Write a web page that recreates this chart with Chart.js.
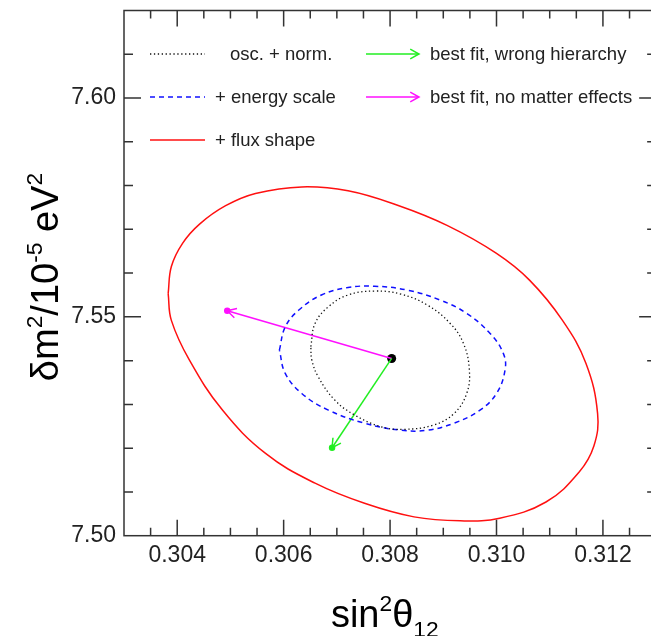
<!DOCTYPE html>
<html>
<head>
<meta charset="utf-8">
<script src="https://cdn.jsdelivr.net/npm/chart.js@4.4.0/dist/chart.umd.min.js"></script>
<style>
  body { margin: 0; background: #fff; }
  canvas { display: block; }
</style>
</head>
<body>
<canvas id="contourChart" width="651" height="636"></canvas>
<script>
// contour points (sin^2 theta12, dm^2 / 1e-5 eV^2)
const oscNormX = [0.30651, 0.30659, 0.30684, 0.30721, 0.30771, 0.30820, 0.30870, 0.30913, 0.30938, 0.30949,
                  0.30944, 0.30920, 0.30882, 0.30826, 0.30783, 0.30733, 0.30696, 0.30665, 0.30653];
const oscNormY = [7.5432, 7.5485, 7.5523, 7.5550, 7.5559, 7.5552, 7.5527, 7.5485, 7.5439, 7.5378,
                  7.5325, 7.5279, 7.5253, 7.5243, 7.5249, 7.5276, 7.5310, 7.5363, 7.5401];

const energyScaleX = [0.30592, 0.30603, 0.30628, 0.30671, 0.30721, 0.30771, 0.30833, 0.30895, 0.30944, 0.30988, 0.31013,
                      0.31016, 0.31000, 0.30969, 0.30920, 0.30870, 0.30820, 0.30752, 0.30684, 0.30634, 0.30603];
const energyScaleY = [7.5424, 7.5477, 7.5515, 7.5550, 7.5567, 7.5570, 7.5561, 7.5538, 7.5508, 7.5462, 7.5416,
                      7.5378, 7.5325, 7.5287, 7.5257, 7.5241, 7.5241, 7.5257, 7.5287, 7.5325, 7.5371];

const fluxShapeX = [0.30383, 0.30389, 0.30410, 0.30442, 0.30491, 0.30547, 0.30634, 0.30721, 0.30814, 0.30907,
                    0.31000, 0.31062, 0.31124, 0.31168, 0.31190, 0.31183, 0.31155, 0.31093, 0.31006, 0.30932,
                    0.30845, 0.30752, 0.30659, 0.30566, 0.30485, 0.30423, 0.30389];
const fluxShapeY = [7.5553, 7.5615, 7.5668, 7.5712, 7.5754, 7.5782, 7.5797, 7.5788, 7.5755, 7.5709,
                    7.5645, 7.5584, 7.5492, 7.5394, 7.5279, 7.5205, 7.5145, 7.5077, 7.5040, 7.5034,
                    7.5043, 7.5074, 7.5120, 7.5188, 7.5287, 7.5401, 7.5492];

const bestFit = [0.30803, 7.5405];
const wrongHierarchyFit = [0.30691, 7.5201];
const noMatterFit = [0.30494, 7.5514];

const xTickValues = [0.304, 0.306, 0.308, 0.310, 0.312];
const yTickValues = [7.50, 7.55, 7.60];
const xMinorStep = 0.0005;
const yMinorStep = 0.01;
const xMin = 0.303, xMax = 0.3128, xFrameMax = 0.313;
const yMin = 7.50, yMax = 7.62;

const FONT = '"Liberation Sans", Arial, Helvetica, sans-serif';

function toPoints(xs, ys, close) {
    const pts = xs.map((x, i) => ({ x: x, y: ys[i] }));
    if (close) pts.push({ x: xs[0], y: ys[0] });
    return pts;
}

function arrowHead(ctx, x0, y0, x1, y1, color) {
    const ang = Math.atan2(y1 - y0, x1 - x0);
    const len = 10, spread = 0.5;
    ctx.save();
    ctx.strokeStyle = color;
    ctx.lineWidth = 1.5;
    ctx.setLineDash([]);
    ctx.beginPath();
    ctx.moveTo(x1 - len * Math.cos(ang - spread), y1 - len * Math.sin(ang - spread));
    ctx.lineTo(x1, y1);
    ctx.lineTo(x1 - len * Math.cos(ang + spread), y1 - len * Math.sin(ang + spread));
    ctx.stroke();
    ctx.restore();
}

// text with super/subscripts, parts = [[text, 'sup'|'sub'|null], ...]
function richText(ctx, parts, size) {
    const small = size * 0.6;
    let w = 0;
    parts.forEach(p => {
        ctx.font = (p[1] ? small : size) + 'px ' + FONT;
        w += ctx.measureText(p[0]).width;
    });
    let x = -w / 2;
    parts.forEach(p => {
        ctx.font = (p[1] ? small : size) + 'px ' + FONT;
        let dy = 0;
        if (p[1] === 'sup') dy = -size * 0.42;
        if (p[1] === 'sub') dy = size * 0.26;
        ctx.fillText(p[0], x, dy);
        x += ctx.measureText(p[0]).width;
    });
}

const framePlugin = {
    id: 'frame',
    afterDraw(chart) {
        const { ctx, chartArea: a, scales: { x, y } } = chart;
        const right = x.getPixelForValue(xFrameMax);
        ctx.save();
        ctx.strokeStyle = '#333';
        ctx.lineWidth = 1.5;
        ctx.strokeRect(a.left, a.top, right - a.left, a.bottom - a.top);

        // inward ticks on all four sides
        ctx.beginPath();
        const nx = Math.round((xFrameMax - xMin) / xMinorStep);
        for (let i = 1; i < nx; i++) {
            const v = xMin + i * xMinorStep;
            const major = Math.abs(v / 0.002 - Math.round(v / 0.002)) < 1e-6;
            const px = x.getPixelForValue(v);
            const l = major ? 16 : 8;
            ctx.moveTo(px, a.bottom); ctx.lineTo(px, a.bottom - l);
            ctx.moveTo(px, a.top); ctx.lineTo(px, a.top + l);
        }
        const ny = Math.round((yMax - yMin) / yMinorStep);
        for (let i = 1; i < ny; i++) {
            const v = yMin + i * yMinorStep;
            const major = i % 5 === 0;
            const py = y.getPixelForValue(v);
            const l = major ? 17 : 9;
            ctx.moveTo(a.left, py); ctx.lineTo(a.left + l, py);
            ctx.moveTo(right, py); ctx.lineTo(right - l, py);
        }
        ctx.stroke();

        // axis titles
        ctx.fillStyle = '#000';
        ctx.textBaseline = 'alphabetic';
        ctx.save();
        ctx.translate((a.left + a.right) / 2, 627);
        richText(ctx, [['sin', null], ['2', 'sup'], ['\u03b8', null], ['12', 'sub']], 38);
        ctx.restore();
        ctx.save();
        ctx.translate(58, 277);
        ctx.rotate(-Math.PI / 2);
        richText(ctx, [['\u03b4m', null], ['2', 'sup'], ['/10', null], ['-5', 'sup'], [' eV', null], ['2', 'sup']], 38);
        ctx.restore();
        ctx.restore();
    },
    afterDatasetsDraw(chart) {
        const { ctx, scales: { x, y } } = chart;
        const ds = chart.data.datasets;
        // arrow heads on the fit shifts
        [3, 4].forEach(i => {
            const d = ds[i].data;
            arrowHead(ctx, x.getPixelForValue(d[0].x), y.getPixelForValue(d[0].y),
                x.getPixelForValue(d[1].x), y.getPixelForValue(d[1].y), ds[i].borderColor);
        });

        // legend
        ctx.save();
        ctx.font = '18.5px ' + FONT;
        ctx.fillStyle = '#222';
        ctx.textBaseline = 'middle';
        const rows = [54, 97, 140];
        [0, 1, 2].forEach((i, r) => {
            ctx.save();
            ctx.strokeStyle = ds[i].borderColor;
            ctx.lineWidth = ds[i].borderWidth;
            ctx.setLineDash(ds[i].borderDash || []);
            ctx.beginPath();
            ctx.moveTo(150, rows[r]); ctx.lineTo(205, rows[r]);
            ctx.stroke();
            ctx.restore();
            ctx.fillText(ds[i].label, r === 0 ? 230 : 215, rows[r] + 1);
        });
        [3, 4].forEach((i, r) => {
            ctx.save();
            ctx.strokeStyle = ds[i].borderColor;
            ctx.lineWidth = 1.5;
            ctx.beginPath();
            ctx.moveTo(366, rows[r]); ctx.lineTo(419, rows[r]);
            ctx.stroke();
            ctx.restore();
            arrowHead(ctx, 366, rows[r], 419, rows[r], ds[i].borderColor);
            ctx.fillText(ds[i].label, 430, rows[r] + 1);
        });
        ctx.restore();
    }
};

new Chart(document.getElementById('contourChart'), {
    type: 'scatter',
    data: {
        datasets: [
            {
                label: 'osc. + norm.',
                data: toPoints(oscNormX, oscNormY, true),
                showLine: true, tension: 0.4, pointRadius: 0,
                borderColor: '#111', borderWidth: 1.3, borderDash: [1.3, 2.6]
            },
            {
                label: '+ energy scale',
                data: toPoints(energyScaleX, energyScaleY, true),
                showLine: true, tension: 0.4, pointRadius: 0,
                borderColor: '#1010ff', borderWidth: 1.5, borderDash: [5, 4]
            },
            {
                label: '+ flux shape',
                data: toPoints(fluxShapeX, fluxShapeY, true),
                showLine: true, tension: 0.4, pointRadius: 0,
                borderColor: '#ff1010', borderWidth: 1.5
            },
            {
                label: 'best fit, wrong hierarchy',
                data: toPoints([bestFit[0], wrongHierarchyFit[0]], [bestFit[1], wrongHierarchyFit[1]]),
                showLine: true, pointRadius: [0, 2.5], borderWidth: 1.5,
                borderColor: '#22ee22', backgroundColor: '#22ee22'
            },
            {
                label: 'best fit, no matter effects',
                data: toPoints([bestFit[0], noMatterFit[0]], [bestFit[1], noMatterFit[1]]),
                showLine: true, pointRadius: [0, 2.5], borderWidth: 1.5,
                borderColor: '#ff10ff', backgroundColor: '#ff10ff'
            },
            {
                label: 'best fit',
                data: toPoints([bestFit[0]], [bestFit[1]]),
                pointRadius: 4.5, borderWidth: 0, backgroundColor: '#000'
            }
        ]
    },
    options: {
        responsive: false,
        animation: false,
        events: [],
        layout: { padding: { top: 10.5, right: 0, left: 0, bottom: 0 } },
        plugins: { legend: { display: false }, tooltip: { enabled: false } },
        scales: {
            x: {
                type: 'linear', min: xMin, max: xMax,
                border: { display: false },
                grid: { display: false, drawTicks: false, tickLength: 0 },
                afterBuildTicks: s => { s.ticks = xTickValues.map(v => ({ value: v })); },
                afterFit: s => { s.height = 100.3; s.paddingLeft = 0; s.paddingRight = 0; },
                ticks: {
                    padding: 6,
                    color: '#222',
                    font: { family: FONT, size: 23 },
                    callback: v => v.toFixed(3)
                }
            },
            y: {
                type: 'linear', min: yMin, max: yMax,
                border: { display: false },
                grid: { display: false, drawTicks: false, tickLength: 0 },
                afterBuildTicks: s => { s.ticks = yTickValues.map(v => ({ value: v })); },
                afterFit: s => { s.width = 124; s.paddingTop = 0; s.paddingBottom = 0; },
                ticks: {
                    padding: 8,
                    color: '#222',
                    font: { family: FONT, size: 23 },
                    callback: v => v.toFixed(2)
                }
            }
        }
    },
    plugins: [framePlugin]
});
</script>
</body>
</html>
